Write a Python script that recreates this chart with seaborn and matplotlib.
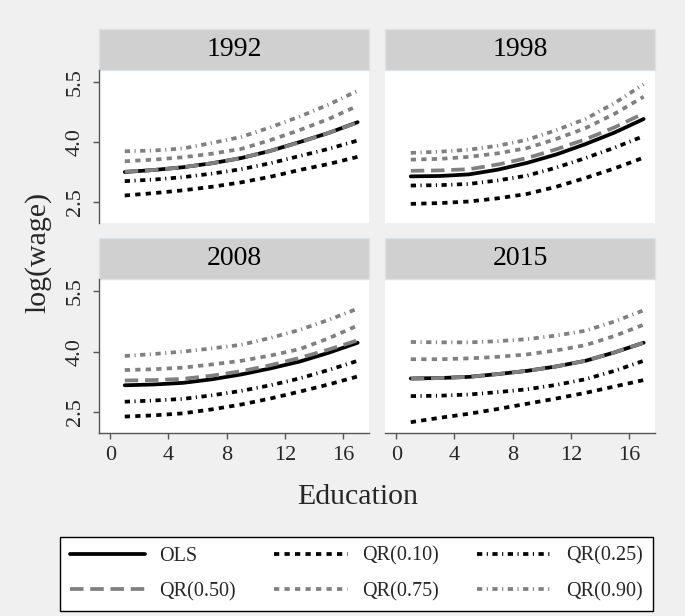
import pandas as pd
import seaborn as sns
import matplotlib.pyplot as plt
from matplotlib.patches import Rectangle
from matplotlib.lines import Line2D

sns.set_theme(style="white")
plt.rcParams["font.family"] = ["Liberation Serif", "DejaVu Serif"]

years = ["1992", "1998", "2008", "2015"]
educ = [1, 3, 5, 7, 9, 11, 13, 15, 17]
models = ["OLS", "QR(0.10)", "QR(0.25)", "QR(0.50)", "QR(0.75)", "QR(0.90)"]

# fitted log(wage) at educ = 1, 3, ..., 17
fit_1992 = {
  "OLS":      [3.25, 3.30, 3.37, 3.47, 3.60, 3.78, 4.00, 4.23, 4.50],
  "QR(0.10)": [2.66, 2.72, 2.79, 2.88, 2.99, 3.13, 3.30, 3.45, 3.63],
  "QR(0.25)": [3.02, 3.06, 3.12, 3.21, 3.32, 3.47, 3.65, 3.83, 4.04],
  "QR(0.50)": [3.26, 3.30, 3.37, 3.47, 3.60, 3.78, 3.99, 4.23, 4.49],
  "QR(0.75)": [3.52, 3.56, 3.62, 3.71, 3.83, 4.05, 4.30, 4.58, 4.91],
  "QR(0.90)": [3.77, 3.79, 3.84, 3.98, 4.13, 4.37, 4.64, 4.94, 5.29],
}
fit_1998 = {
  "OLS":      [3.14, 3.15, 3.19, 3.31, 3.48, 3.69, 3.95, 4.24, 4.58],
  "QR(0.10)": [2.45, 2.47, 2.51, 2.59, 2.70, 2.88, 3.10, 3.34, 3.61],
  "QR(0.25)": [2.91, 2.92, 2.95, 3.04, 3.16, 3.36, 3.60, 3.86, 4.15],
  "QR(0.50)": [3.28, 3.29, 3.32, 3.44, 3.60, 3.82, 4.07, 4.37, 4.72],
  "QR(0.75)": [3.56, 3.58, 3.63, 3.72, 3.85, 4.08, 4.35, 4.71, 5.14],
  "QR(0.90)": [3.73, 3.76, 3.81, 3.91, 4.06, 4.30, 4.58, 4.98, 5.45],
}
fit_2008 = {
  "OLS":      [3.16, 3.18, 3.22, 3.31, 3.43, 3.58, 3.75, 3.97, 4.22],
  "QR(0.10)": [2.38, 2.41, 2.46, 2.56, 2.68, 2.83, 3.00, 3.18, 3.38],
  "QR(0.25)": [2.75, 2.78, 2.82, 2.91, 3.02, 3.16, 3.33, 3.54, 3.77],
  "QR(0.50)": [3.28, 3.29, 3.32, 3.40, 3.51, 3.66, 3.84, 4.05, 4.28],
  "QR(0.75)": [3.54, 3.56, 3.60, 3.68, 3.77, 3.90, 4.06, 4.33, 4.65],
  "QR(0.90)": [3.89, 3.94, 4.00, 4.08, 4.17, 4.34, 4.54, 4.79, 5.07],
}
fit_2015 = {
  "OLS":      [3.33, 3.34, 3.37, 3.44, 3.52, 3.63, 3.77, 3.98, 4.22],
  "QR(0.10)": [2.24, 2.35, 2.45, 2.57, 2.70, 2.83, 2.97, 3.13, 3.29],
  "QR(0.25)": [2.89, 2.90, 2.93, 2.99, 3.06, 3.17, 3.31, 3.52, 3.77],
  "QR(0.50)": [3.32, 3.34, 3.37, 3.44, 3.52, 3.63, 3.77, 3.98, 4.22],
  "QR(0.75)": [3.81, 3.81, 3.83, 3.87, 3.93, 4.03, 4.16, 4.39, 4.67],
  "QR(0.90)": [4.24, 4.23, 4.23, 4.26, 4.31, 4.40, 4.52, 4.75, 5.03],
}

rows = []
for year, fits in zip(years, [fit_1992, fit_1998, fit_2008, fit_2015]):
  for m in models:
    for e, v in zip(educ, fits[m]):
      rows.append({"year": year, "model": m, "educ": e, "lwage": v})
df = pd.DataFrame(rows)

GRAY = "#808080"
palette = {"OLS": "black", "QR(0.10)": "black", "QR(0.25)": "black",
           "QR(0.50)": GRAY, "QR(0.75)": GRAY, "QR(0.90)": GRAY}
dashes = {"OLS": "", "QR(0.10)": (1.4, 1.4), "QR(0.25)": (1.4, 1.2, 0.3, 1.2),
          "QR(0.50)": (3.6, 1.8), "QR(0.75)": (1.4, 1.4), "QR(0.90)": (1.4, 1.2, 0.3, 1.2)}
LW = 2.7

g = sns.relplot(
  df, kind="line",
  x="educ", y="lwage", hue="model", style="model",
  hue_order=models, style_order=models,
  palette=palette, dashes=dashes,
  col="year", col_wrap=2, linewidth=LW,
  height=3, aspect=1, legend=False,
  facet_kws={"sharex": True, "sharey": True})

fig = g.figure
fig.set_size_inches(6.85, 6.16)
fig.set_facecolor("#f0f0f0")

W, H = 685, 616
cols = [(99, 369), (385, 655)]
rows_px = [(70, 223), (279, 433)]
SPINE = "#555555"

for i, ax in enumerate(g.axes.flat):
  r, c = divmod(i, 2)
  x0, x1 = cols[c]
  y0, y1 = rows_px[r]
  ax.set_position([x0 / W, 1 - y1 / H, (x1 - x0) / W, (y1 - y0) / H])
  ax.set_facecolor("white")
  ax.set_title("")
  ax.set_xlabel("")
  ax.set_ylabel("")
  ax.set_xlim(-0.77, 17.78)
  ax.set_ylim(1.97, 5.81)
  ax.set_xticks([0, 4, 8, 12, 16])
  ax.set_yticks([2.5, 4.0, 5.5])
  ax.set_yticklabels(["2.5", "4.0", "5.5"], rotation=90, va="center")
  for s in ["top", "right"]:
    ax.spines[s].set_visible(False)
  ax.spines["left"].set_visible(c == 0)
  ax.spines["bottom"].set_visible(r == 1)
  for s in ["left", "bottom"]:
    ax.spines[s].set_color(SPINE)
    ax.spines[s].set_linewidth(1.0)
  ax.tick_params(axis="x", bottom=(r == 1), labelbottom=(r == 1), length=4,
                 width=1, color=SPINE, direction="out", labelsize=16, pad=5)
  ax.tick_params(axis="y", left=(c == 0), labelleft=(c == 0), length=4,
                 width=1, color=SPINE, direction="out", labelsize=16, pad=6)
  sh = 41 / (y1 - y0)
  ax.add_patch(Rectangle((0, 1), 1, sh, transform=ax.transAxes, clip_on=False,
                         facecolor="#d0d0d0", edgecolor="#dce3e8", linewidth=1))
  ax.text(0.5, 1 + sh / 2, years[i], transform=ax.transAxes,
          ha="center", va="center", fontsize=20, color="black")

fig.text(357.5 / W, 1 - 497 / H, "Education", ha="center", va="center", fontsize=21.5)
fig.text(38 / W, 1 - 252 / H, "log(wage)", ha="center", va="center",
         rotation=90, fontsize=21.5)

handles = [Line2D([], [], color=palette[m], linewidth=LW,
                  dashes=dashes[m] if dashes[m] else (None, None))
           for m in models]
order = [0, 3, 1, 4, 2, 5]
leg = fig.legend([handles[k] for k in order], [models[k] for k in order],
                 ncol=3, loc="center", bbox_to_anchor=(356.5 / W, 1 - 574 / H),
                 fontsize=14.5, handlelength=3.7, handletextpad=0.7,
                 columnspacing=1.9, borderpad=0.5, labelspacing=0.8,
                 frameon=True, fancybox=False, framealpha=1)
leg.get_frame().set_edgecolor("black")
leg.get_frame().set_linewidth(1.0)
leg.get_frame().set_facecolor("white")

fig.savefig("out.png", dpi=100, facecolor=fig.get_facecolor())
